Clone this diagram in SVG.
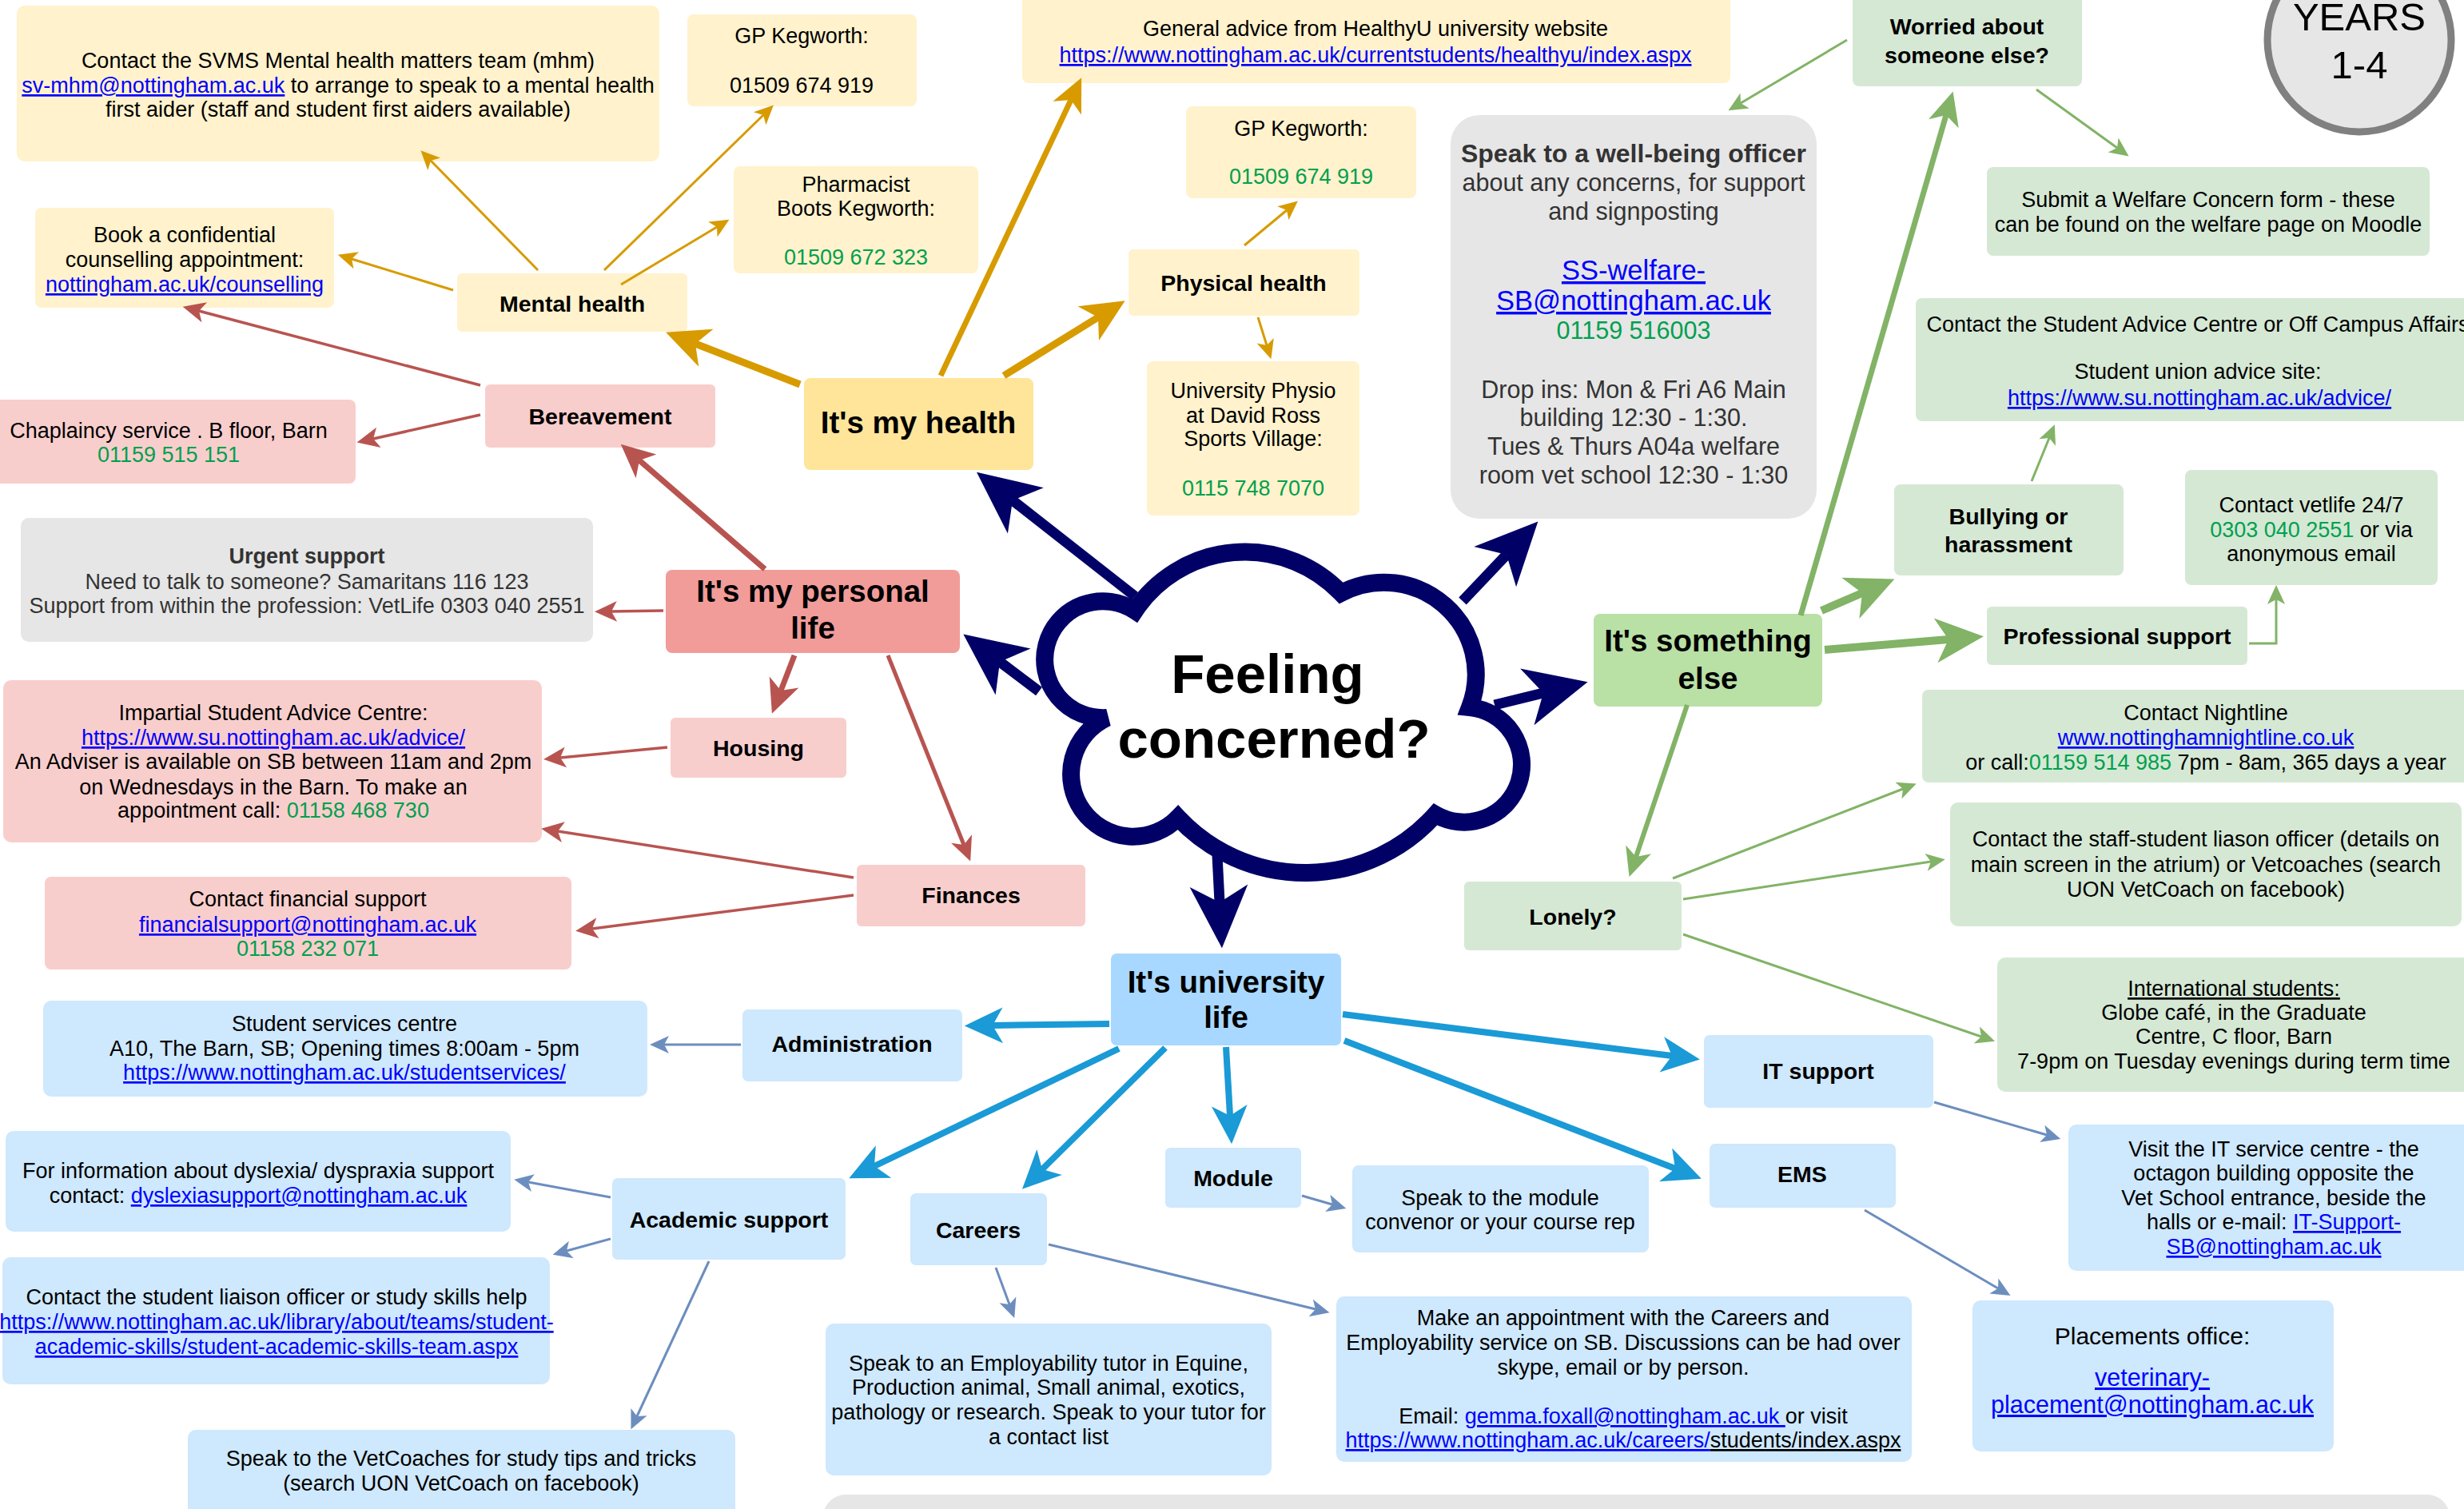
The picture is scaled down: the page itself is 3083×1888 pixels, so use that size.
<svg xmlns="http://www.w3.org/2000/svg" width="3083" height="1888" viewBox="0 0 3083 1888">
<style>
text{font-family:"Liberation Sans",Arial,Helvetica,sans-serif;font-size:27px;text-anchor:middle;fill:#000}
.b{font-weight:bold;font-size:28.5px}
.h{font-weight:bold;font-size:38.5px}
.g{fill:#00a04f}
.l{fill:#0000ff;text-decoration:underline}
.u{text-decoration:underline}
.d{fill:#333}
.fy{fill:#fff2cc}.fY{fill:#ffe599}.fr{fill:#f8cecc}.fR{fill:#f19c99}.fg{fill:#e6e6e6}
.fn{fill:#d5e8d4}.fN{fill:#b9e0a5}.fb{fill:#cee8fd}.fB{fill:#a8d8ff}
.c{fill:none;stroke-linecap:butt}
.nv{stroke:#000066;stroke-width:13;marker-end:url(#nk)}
.ok{stroke:#d79b00;marker-end:url(#ok)}
.ot{stroke:#d79b00;stroke-width:3;marker-end:url(#ot)}
.rk{stroke:#b85450;marker-end:url(#rk)}
.rt{stroke:#b85450;stroke-width:3.5;marker-end:url(#rt)}
.gk{stroke:#82b366;marker-end:url(#gk)}
.gt{stroke:#82b366;stroke-width:3;marker-end:url(#gt)}
.bk{stroke:#1a9ad6;stroke-width:8;marker-end:url(#bk)}
.bt{stroke:#6c8ebf;stroke-width:3;marker-end:url(#bt)}
</style>
<defs>
<marker id="nk" markerUnits="strokeWidth" orient="auto" refX="1.6" refY="0" markerWidth="8" markerHeight="8" overflow="visible"><path d="M0,-2.8 L6,0 L0,2.8 L1.6,0 z" fill="#000066"/></marker>
<marker id="ok" markerUnits="strokeWidth" orient="auto" refX="1.6" refY="0" markerWidth="8" markerHeight="8" overflow="visible"><path d="M0,-2.8 L6,0 L0,2.8 L1.6,0 z" fill="#d79b00"/></marker>
<marker id="rk" markerUnits="strokeWidth" orient="auto" refX="1.6" refY="0" markerWidth="8" markerHeight="8" overflow="visible"><path d="M0,-2.8 L6,0 L0,2.8 L1.6,0 z" fill="#b85450"/></marker>
<marker id="gk" markerUnits="strokeWidth" orient="auto" refX="1.6" refY="0" markerWidth="8" markerHeight="8" overflow="visible"><path d="M0,-2.8 L6,0 L0,2.8 L1.6,0 z" fill="#82b366"/></marker>
<marker id="bk" markerUnits="strokeWidth" orient="auto" refX="1.6" refY="0" markerWidth="8" markerHeight="8" overflow="visible"><path d="M0,-2.8 L6,0 L0,2.8 L1.6,0 z" fill="#1a9ad6"/></marker>
<marker id="ot" markerUnits="strokeWidth" orient="auto" refX="2" refY="0" markerWidth="10" markerHeight="10" overflow="visible"><path d="M0,-3.7 L8,0 L0,3.7 L2,0 z" fill="#d79b00"/></marker>
<marker id="rt" markerUnits="strokeWidth" orient="auto" refX="2" refY="0" markerWidth="10" markerHeight="10" overflow="visible"><path d="M0,-3.7 L8,0 L0,3.7 L2,0 z" fill="#b85450"/></marker>
<marker id="gt" markerUnits="strokeWidth" orient="auto" refX="2" refY="0" markerWidth="10" markerHeight="10" overflow="visible"><path d="M0,-3.7 L8,0 L0,3.7 L2,0 z" fill="#82b366"/></marker>
<marker id="bt" markerUnits="strokeWidth" orient="auto" refX="2" refY="0" markerWidth="10" markerHeight="10" overflow="visible"><path d="M0,-3.7 L8,0 L0,3.7 L2,0 z" fill="#6c8ebf"/></marker>
</defs>
<rect width="3083" height="1888" fill="#ffffff"/>

<!-- nodes -->
<g id="n-svms"><rect class="fy" x="21" y="7" width="804" height="195" rx="10"/>
<text x="423" y="85">Contact the SVMS Mental health matters team (mhm)</text>
<text x="423" y="116"><tspan class="l">sv-mhm@nottingham.ac.uk</tspan> to arrange to speak to a mental health</text>
<text x="423" y="146">first aider (staff and student first aiders available)</text></g>
<g id="n-gp1"><rect class="fy" x="860" y="18" width="287" height="115" rx="8"/>
<text x="1003" y="54">GP Kegworth:</text><text x="1003" y="116">01509 674 919</text></g>
<g id="n-pharmacist"><rect class="fy" x="918" y="208" width="306" height="134" rx="8"/>
<text x="1071" y="240">Pharmacist</text><text x="1071" y="270">Boots Kegworth:</text><text class="g" x="1071" y="331">01509 672 323</text></g>
<g id="n-counselling"><rect class="fy" x="44" y="260" width="374" height="125" rx="8"/>
<text x="231" y="303">Book a confidential</text><text x="231" y="334">counselling appointment:</text><text class="l" x="231" y="365">nottingham.ac.uk/counselling</text></g>
<g id="n-mental"><rect class="fy" x="572" y="342" width="288" height="73" rx="6"/><text class="b" x="716" y="390">Mental health</text></g>
<g id="n-bereavement"><rect class="fr" x="607" y="481" width="288" height="79" rx="6"/><text class="b" x="751" y="531">Bereavement</text></g>
<g id="n-chaplaincy"><rect class="fr" x="-10" y="500" width="455" height="105" rx="8"/>
<text x="211" y="548">Chaplaincy service . B floor, Barn</text><text class="g" x="211" y="578">01159 515 151</text></g>
<g id="n-health"><rect class="fY" x="1006" y="473" width="287" height="115" rx="8"/><text class="h" x="1149" y="542">It's my health</text></g>
<g id="n-healthyu"><rect class="fy" x="1279" y="-10" width="886" height="114" rx="8"/>
<text x="1721" y="45">General advice from HealthyU university website</text><text class="l" x="1721" y="78">https://www.nottingham.ac.uk/currentstudents/healthyu/index.aspx</text></g>
<g id="n-gp2"><rect class="fy" x="1484" y="133" width="288" height="115" rx="8"/>
<text x="1628" y="170">GP Kegworth:</text><text class="g" x="1628" y="230">01509 674 919</text></g>
<g id="n-physical"><rect class="fy" x="1412" y="312" width="289" height="83" rx="6"/><text class="b" x="1556" y="364">Physical health</text></g>
<g id="n-physio"><rect class="fy" x="1435" y="452" width="266" height="193" rx="8"/>
<text x="1568" y="498">University Physio</text><text x="1568" y="529">at David Ross</text><text x="1568" y="558">Sports Village:</text><text class="g" x="1568" y="620">0115 748 7070</text></g>
<g id="n-wellbeing"><rect class="fg" x="1815" y="144" width="458" height="505" rx="36"/>
<text class="d" x="2044" y="203" style="font-weight:bold;font-size:32px">Speak to a well-being officer</text>
<text class="d" x="2044" y="239" style="font-size:30.5px">about any concerns, for support</text>
<text class="d" x="2044" y="275" style="font-size:30.5px">and signposting</text>
<text class="l" x="2044" y="350" style="font-size:34.5px">SS-welfare-</text>
<text class="l" x="2044" y="388" style="font-size:34.5px">SB@nottingham.ac.uk</text>
<text class="g" x="2044" y="424" style="font-size:30.5px">01159 516003</text>
<text class="d" x="2044" y="498" style="font-size:30.5px">Drop ins: Mon &amp; Fri A6 Main</text>
<text class="d" x="2044" y="533" style="font-size:30.5px">building 12:30 - 1:30.</text>
<text class="d" x="2044" y="569" style="font-size:30.5px">Tues &amp; Thurs A04a welfare</text>
<text class="d" x="2044" y="605" style="font-size:30.5px">room vet school 12:30 - 1:30</text></g>
<g id="n-worried"><rect class="fn" x="2318" y="-10" width="287" height="118" rx="8"/>
<text class="b" x="2461" y="43">Worried about</text><text class="b" x="2461" y="79">someone else?</text></g>
<g id="n-years"><circle cx="2952" cy="50" r="115" fill="#e6e6e6" stroke="#808080" stroke-width="9"/>
<text x="2952" y="38" style="font-size:49px">YEARS</text><text x="2952" y="98" style="font-size:49px">1-4</text></g>
<g id="n-submit"><rect class="fn" x="2486" y="209" width="554" height="111" rx="8"/>
<text x="2763" y="259">Submit a Welfare Concern form - these</text><text x="2763" y="290">can be found on the welfare page on Moodle</text></g>
<g id="n-advice"><rect class="fn" x="2397" y="373" width="700" height="154" rx="8"/>
<text x="2750" y="415">Contact the Student Advice Centre or Off Campus Affairs</text>
<text x="2750" y="474">Student union advice site:</text><text class="l" x="2752" y="507">https://www.su.nottingham.ac.uk/advice/</text></g>
<g id="n-bullying"><rect class="fn" x="2370" y="606" width="287" height="114" rx="8"/>
<text class="b" x="2513" y="656">Bullying or</text><text class="b" x="2513" y="691">harassment</text></g>
<g id="n-vetlife"><rect class="fn" x="2734" y="588" width="316" height="144" rx="8"/>
<text x="2892" y="641">Contact vetlife 24/7</text><text x="2892" y="672"><tspan class="g">0303 040 2551</tspan> or via</text><text x="2892" y="702">anonymous email</text></g>
<g id="n-professional"><rect class="fn" x="2486" y="759" width="326" height="73" rx="6"/><text class="b" x="2649" y="806">Professional support</text></g>
<g id="n-something"><rect class="fN" x="1994" y="768" width="286" height="116" rx="8"/>
<text class="h" x="2137" y="815">It's something</text><text class="h" x="2137" y="862">else</text></g>
<g id="n-urgent"><rect class="fg" x="26" y="648" width="716" height="155" rx="10"/>
<text class="b d" x="384" y="705" style="font-size:27px">Urgent support</text>
<text class="d" x="384" y="737">Need to talk to someone? Samaritans 116 123</text>
<text class="d" x="384" y="767">Support from within the profession: VetLife 0303 040 2551</text></g>
<g id="n-personal"><rect class="fR" x="833" y="713" width="368" height="104" rx="8"/>
<text class="h" x="1017" y="753">It's my personal</text><text class="h" x="1017" y="799">life</text></g>
<g id="n-housing"><rect class="fr" x="839" y="898" width="220" height="75" rx="6"/><text class="b" x="949" y="946">Housing</text></g>
<g id="n-impartial"><rect class="fr" x="4" y="851" width="674" height="203" rx="10"/>
<text x="342" y="901">Impartial Student Advice Centre:</text>
<text class="l" x="342" y="932">https://www.su.nottingham.ac.uk/advice/</text>
<text x="342" y="962">An Adviser is available on SB between 11am and 2pm</text>
<text x="342" y="994">on Wednesdays in the Barn. To make an</text>
<text x="342" y="1023">appointment call: <tspan class="g">01158 468 730</tspan></text></g>
<g id="n-finances"><rect class="fr" x="1072" y="1082" width="286" height="77" rx="6"/><text class="b" x="1215" y="1130">Finances</text></g>
<g id="n-finsupport"><rect class="fr" x="56" y="1097" width="659" height="116" rx="8"/>
<text x="385" y="1134">Contact financial support</text><text class="l" x="385" y="1166">financialsupport@nottingham.ac.uk</text><text class="g" x="385" y="1196">01158 232 071</text></g>
<g id="n-nightline"><rect class="fn" x="2405" y="863" width="700" height="116" rx="8"/>
<text x="2760" y="901">Contact Nightline</text><text class="l" x="2760" y="932">www.nottinghamnightline.co.uk</text>
<text x="2760" y="963">or call:<tspan class="g">01159 514 985</tspan> 7pm - 8am, 365 days a year</text></g>
<g id="n-staff"><rect class="fn" x="2440" y="1004" width="640" height="155" rx="10"/>
<text x="2760" y="1059">Contact the staff-student liason officer (details on</text>
<text x="2760" y="1091">main screen in the atrium) or Vetcoaches (search</text>
<text x="2760" y="1122">UON VetCoach on facebook)</text></g>
<g id="n-lonely"><rect class="fn" x="1832" y="1103" width="272" height="86" rx="6"/><text class="b" x="1968" y="1157">Lonely?</text></g>
<g id="n-international"><rect class="fn" x="2499" y="1198" width="600" height="168" rx="10"/>
<text class="u" x="2795" y="1246">International students:</text><text x="2795" y="1276">Globe café, in the Graduate</text>
<text x="2795" y="1306">Centre, C floor, Barn</text><text x="2795" y="1337">7-9pm on Tuesday evenings during term time</text></g>
<g id="n-university"><rect class="fB" x="1390" y="1193" width="288" height="115" rx="7"/>
<text class="h" x="1534" y="1242">It's university</text><text class="h" x="1534" y="1286">life</text></g>
<g id="n-admin"><rect class="fb" x="929" y="1263" width="275" height="90" rx="7"/><text class="b" x="1066" y="1316">Administration</text></g>
<g id="n-studserv"><rect class="fb" x="54" y="1252" width="756" height="120" rx="10"/>
<text x="431" y="1290">Student services centre</text><text x="431" y="1321">A10, The Barn, SB; Opening times 8:00am - 5pm</text>
<text class="l" x="431" y="1351">https://www.nottingham.ac.uk/studentservices/</text></g>
<g id="n-dyslexia"><rect class="fb" x="7" y="1415" width="632" height="126" rx="10"/>
<text x="323" y="1474">For information about dyslexia/ dyspraxia support</text>
<text x="323" y="1505">contact: <tspan class="l">dyslexiasupport@nottingham.ac.uk</tspan></text></g>
<g id="n-academic"><rect class="fb" x="766" y="1474" width="292" height="102" rx="7"/><text class="b" x="912" y="1536">Academic support</text></g>
<g id="n-careers"><rect class="fb" x="1139" y="1493" width="171" height="90" rx="7"/><text class="b" x="1224" y="1549">Careers</text></g>
<g id="n-study"><rect class="fb" x="3" y="1573" width="685" height="159" rx="10"/>
<text x="346" y="1632">Contact the student liaison officer or study skills help</text>
<text class="l" x="346" y="1663">https://www.nottingham.ac.uk/library/about/teams/student-</text>
<text class="l" x="346" y="1694">academic-skills/student-academic-skills-team.aspx</text></g>
<g id="n-vetcoach"><rect class="fb" x="235" y="1789" width="685" height="110" rx="10"/>
<text x="577" y="1834">Speak to the VetCoaches for study tips and tricks</text><text x="577" y="1865">(search UON VetCoach on facebook)</text></g>
<g id="n-employability"><rect class="fb" x="1033" y="1656" width="558" height="190" rx="10"/>
<text x="1312" y="1715">Speak to an Employability tutor in Equine,</text>
<text x="1312" y="1745">Production animal, Small animal, exotics,</text>
<text x="1312" y="1776">pathology or research. Speak to your tutor for</text>
<text x="1312" y="1807">a contact list</text></g>
<g id="n-module"><rect class="fb" x="1458" y="1436" width="170" height="75" rx="6"/><text class="b" x="1543" y="1484">Module</text></g>
<g id="n-convenor"><rect class="fb" x="1692" y="1458" width="371" height="109" rx="8"/>
<text x="1877" y="1508">Speak to the module</text><text x="1877" y="1538">convenor or your course rep</text></g>
<g id="n-it"><rect class="fb" x="2132" y="1295" width="287" height="91" rx="7"/><text class="b" x="2275" y="1350">IT support</text></g>
<g id="n-ems"><rect class="fb" x="2139" y="1431" width="233" height="80" rx="7"/><text class="b" x="2255" y="1479">EMS</text></g>
<g id="n-itvisit"><rect class="fb" x="2588" y="1407" width="510" height="183" rx="10"/>
<text x="2845" y="1447">Visit the IT service centre - the</text><text x="2845" y="1477">octagon building opposite the</text>
<text x="2845" y="1508">Vet School entrance, beside the</text>
<text x="2845" y="1538">halls or e-mail: <tspan class="l">IT-Support-</tspan></text>
<text class="l" x="2845" y="1569">SB@nottingham.ac.uk</text></g>
<g id="n-careersappt"><rect class="fb" x="1672" y="1622" width="720" height="207" rx="10"/>
<text x="2031" y="1658">Make an appointment with the Careers and</text>
<text x="2031" y="1689">Employability service on SB. Discussions can be had over</text>
<text x="2031" y="1720">skype, email or by person.</text>
<text x="2031" y="1781">Email: <tspan class="l">gemma.foxall@nottingham.ac.uk </tspan> or visit</text>
<text x="2031" y="1811"><tspan class="l">https://www.nottingham.ac.uk/careers/</tspan><tspan class="u">students/index.aspx</tspan></text></g>
<g id="n-placements"><rect class="fb" x="2468" y="1627" width="452" height="189" rx="10"/>
<text x="2693" y="1682" style="font-size:30px">Placements office:</text>
<text class="l" x="2693" y="1734" style="font-size:30.5px">veterinary-</text>
<text class="l" x="2693" y="1768" style="font-size:30.5px">placement@nottingham.ac.uk</text></g>
<g id="n-bottom"><rect class="fg" x="1030" y="1870" width="2035" height="80" rx="28"/></g>

<!-- connectors -->
<g id="connectors">
<line class="c nv" x1="1420" y1="746" x2="1267" y2="626"/>
<line class="c nv" x1="1300" y1="865" x2="1251" y2="828"/>
<line class="c nv" x1="1830" y1="752" x2="1885" y2="694"/>
<line class="c nv" x1="1870" y1="882" x2="1931" y2="867"/>
<line class="c nv" x1="1523" y1="1070" x2="1526" y2="1129"/>

<line class="c ok" style="stroke-width:9" x1="1001" y1="481" x2="870" y2="430"/>
<line class="c ok" style="stroke-width:7" x1="1177" y1="470" x2="1340" y2="125"/>
<line class="c ok" style="stroke-width:9" x1="1256" y1="470" x2="1374" y2="397"/>
<line class="c ot" x1="673" y1="338" x2="539" y2="201"/>
<line class="c ot" x1="756" y1="338" x2="955" y2="144"/>
<line class="c ot" x1="777" y1="356" x2="897" y2="284"/>
<line class="c ot" x1="567" y1="363" x2="440" y2="324"/>
<line class="c ot" x1="1557" y1="307" x2="1610" y2="263"/>
<line class="c ot" x1="1574" y1="397" x2="1585" y2="432"/>

<line class="c rk" style="stroke-width:7" x1="957" y1="712" x2="800" y2="576"/>
<line class="c rk" style="stroke-width:7" x1="994" y1="820" x2="977" y2="864"/>
<line class="c rk" style="stroke-width:5" x1="1111" y1="820" x2="1206" y2="1057"/>
<line class="c rt" x1="830" y1="764" x2="765" y2="765"/>
<line class="c rt" x1="601" y1="482" x2="249" y2="389"/>
<line class="c rt" x1="601" y1="519" x2="467" y2="549"/>
<line class="c rt" x1="835" y1="935" x2="701" y2="948"/>
<line class="c rt" x1="1068" y1="1098" x2="698" y2="1040"/>
<line class="c rt" x1="1068" y1="1120" x2="741" y2="1162"/>

<line class="c gk" style="stroke-width:7" x1="2253" y1="770" x2="2435" y2="144"/>
<line class="c gk" style="stroke-width:10" x1="2279" y1="764" x2="2330" y2="742"/>
<line class="c gk" style="stroke-width:10" x1="2283" y1="813" x2="2438" y2="800"/>
<line class="c gk" style="stroke-width:6" x1="2111" y1="882" x2="2047" y2="1072"/>
<line class="c gt" x1="2311" y1="50" x2="2178" y2="129"/>
<line class="c gt" x1="2548" y1="112" x2="2649" y2="185"/>
<path class="c gt" d="M2814,805 L2848,805 L2848,750"/>
<line class="c gt" x1="2542" y1="602" x2="2564" y2="548"/>
<line class="c gt" x1="2093" y1="1099" x2="2381" y2="987"/>
<line class="c gt" x1="2106" y1="1125" x2="2416" y2="1078"/>
<line class="c gt" x1="2106" y1="1169" x2="2479" y2="1297"/>

<line class="c bk" x1="1388" y1="1281" x2="1242" y2="1283"/>
<line class="c bk" x1="1400" y1="1312" x2="1094" y2="1459"/>
<line class="c bk" x1="1458" y1="1311" x2="1304" y2="1463"/>
<line class="c bk" x1="1534" y1="1310" x2="1539" y2="1396"/>
<line class="c bk" x1="1680" y1="1269" x2="2092" y2="1321"/>
<line class="c bk" x1="1682" y1="1302" x2="2096" y2="1462"/>
<line class="c bt" x1="927" y1="1307" x2="831" y2="1307"/>
<line class="c bt" x1="764" y1="1498" x2="661" y2="1479"/>
<line class="c bt" x1="764" y1="1550" x2="709" y2="1565"/>
<line class="c bt" x1="887" y1="1578" x2="797" y2="1772"/>
<line class="c bt" x1="1246" y1="1586" x2="1263" y2="1632"/>
<line class="c bt" x1="1312" y1="1557" x2="1646" y2="1638"/>
<line class="c bt" x1="1629" y1="1496" x2="1667" y2="1507"/>
<line class="c bt" x1="2420" y1="1379" x2="2561" y2="1420"/>
<line class="c bt" x1="2333" y1="1514" x2="2500" y2="1612"/>
</g>

<g id="n-cloud">
<path d="M1420,764 A166,166 0 0 1 1678,742 A115,115 0 0 1 1839,885 A72,72 0 1 1 1796,1019 A218,218 0 0 1 1474,1023 A78,78 0 1 1 1385,898 A73,73 0 1 1 1420,764 Z" fill="#ffffff" stroke="#000066" stroke-width="22"/>
<text x="1586" y="867" style="font-weight:bold;font-size:69px">Feeling</text>
<text x="1594" y="948" style="font-weight:bold;font-size:69px">concerned?</text>
</g>
</svg>
